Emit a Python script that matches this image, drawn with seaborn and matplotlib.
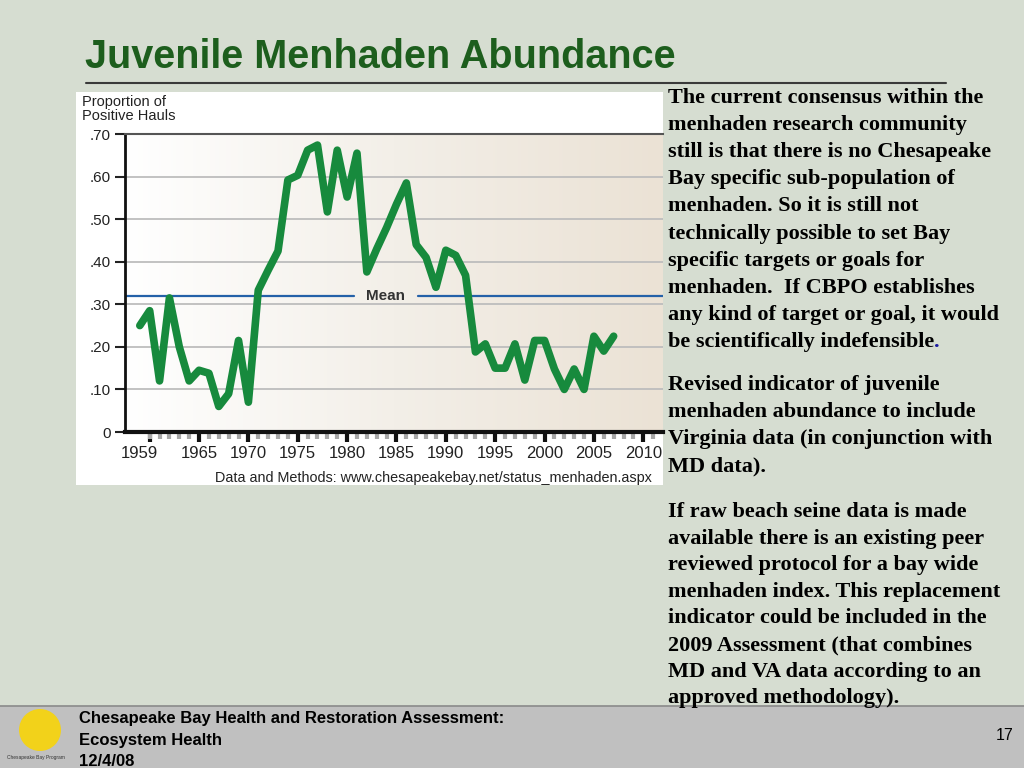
import numpy as np
import pandas as pd
import matplotlib
matplotlib.use('Agg')
import matplotlib.pyplot as plt
from matplotlib.colors import LinearSegmentedColormap
from matplotlib.patches import Rectangle, Ellipse
import seaborn as sns

# data
years = list(range(1959, 2008))
positive_hauls = [0.25, 0.285, 0.12, 0.315, 0.20, 0.12, 0.145, 0.138, 0.06, 0.09,
                  0.215, 0.07, 0.333, 0.38, 0.425, 0.592, 0.603, 0.662, 0.674, 0.517,
                  0.662, 0.552, 0.655, 0.376, 0.43, 0.48, 0.535, 0.585, 0.44, 0.41,
                  0.34, 0.427, 0.415, 0.368, 0.188, 0.207, 0.15, 0.15, 0.207, 0.122,
                  0.215, 0.215, 0.148, 0.10, 0.148, 0.10, 0.225, 0.19, 0.225]
mean_value = 0.32
y_ticks = [0, 0.1, 0.2, 0.3, 0.4, 0.5, 0.6, 0.7]
y_labels = ['0', '.10', '.20', '.30', '.40', '.50', '.60', '.70']
x_label_pos = [1959, 1965, 1970, 1975, 1980, 1985, 1990, 1995, 2000, 2005, 2010]
x_labels = [str(y) for y in x_label_pos]
x_major = list(range(1960, 2011, 5))

title = 'Juvenile Menhaden Abundance'
para1 = ['The current consensus within the',
         'menhaden research community',
         'still is that there is no Chesapeake',
         'Bay specific sub-population of',
         'menhaden. So it is still not',
         'technically possible to set Bay',
         'specific targets or goals for',
         'menhaden.  If CBPO establishes',
         'any kind of target or goal, it would',
         'be scientifically indefensible']
para2 = ['Revised indicator of juvenile',
         'menhaden abundance to include',
         'Virginia data (in conjunction with',
         'MD data).']
para3 = ['If raw beach seine data is made',
         'available there is an existing peer',
         'reviewed protocol for a bay wide',
         'menhaden index. This replacement',
         'indicator could be included in the',
         '2009 Assessment (that combines',
         'MD and VA data according to an',
         'approved methodology).']
footer = ['Chesapeake Bay Health and Restoration Assessment:',
          'Ecosystem Health',
          '12/4/08']
page_no = '17'

df = pd.DataFrame({'year': years, 'value': positive_hauls})

sns.set_style('white')
plt.rcParams['font.family'] = ['Liberation Sans', 'DejaVu Sans']

W, H = 1024, 768
fig = plt.figure(figsize=(W / 100, H / 100), dpi=100)
fig.patch.set_facecolor('#d6ddd1')


def px(x, y):
    # pixel (from top-left) to figure fraction
    return x / W, 1 - y / H


# title + rule
fig.text(*px(85, 57), title, fontsize=28.5, fontweight='bold', color='#1d5e1d',
         va='center', ha='left')
fig.add_artist(plt.Line2D([86 / W, 946 / W], [1 - 83 / H] * 2, color='#3a3a3a', lw=1.5))

# white chart panel
fig.add_artist(Rectangle(px(76, 485), 587 / W, 393 / H, transform=fig.transFigure,
                         facecolor='white', edgecolor='none', zorder=0))

ax = fig.add_axes([125 / W, 1 - 432 / H, 538 / W, 298 / H])
grad_cmap = LinearSegmentedColormap.from_list('bg', ['#ffffff', '#f3efe8', '#ebe2d5'])
ax.imshow(np.linspace(0, 1, 256).reshape(1, -1), cmap=grad_cmap, aspect='auto',
          extent=[0, 1, 0, 1], transform=ax.transAxes, zorder=0)

for yt in y_ticks[1:-1]:
    ax.axhline(yt, color='#bdbdbd', lw=1.3, zorder=1)

# mean line with a gap for its label
ax.axhline(mean_value, xmin=0, xmax=0.426, color='#2461a8', lw=1.6, zorder=2)
ax.axhline(mean_value, xmin=0.545, xmax=1, color='#2461a8', lw=1.6, zorder=2)
ax.text(0.484, mean_value, 'Mean', transform=ax.get_yaxis_transform(), ha='center',
        va='center', fontsize=11, fontweight='bold', color='#333333')

sns.lineplot(data=df, x='year', y='value', ax=ax, color='#178a3d', lw=5.5, zorder=3)

ax.set_xlim(1957.5, 2012)
ax.set_ylim(0, 0.7)
ax.set_xlabel('')
ax.set_ylabel('')
ax.set_yticks(y_ticks)
ax.set_yticklabels(y_labels, fontsize=11, color='#222222')
ax.tick_params(axis='y', length=7, width=1.5, color='#222222', left=True, pad=3)
ax.set_xticks(x_label_pos)
ax.set_xticklabels(x_labels, fontsize=12, color='#222222')
ax.set_xticks(years + [2008, 2009, 2010, 2011], minor=True)
ax.tick_params(axis='x', which='major', length=0, pad=10)
ax.tick_params(axis='x', which='minor', length=5, width=3, color='#a8a8a8', bottom=True)

sec = ax.secondary_xaxis('bottom')
sec.set_xticks(x_major)
sec.set_xticklabels([])
sec.tick_params(length=7, width=3, color='#111111')
sec.spines['bottom'].set_visible(False)

ax.spines['right'].set_visible(False)
ax.spines['top'].set_color('#555555')
ax.spines['top'].set_linewidth(1.5)
ax.spines['left'].set_color('#111111')
ax.spines['left'].set_linewidth(2)
ax.spines['bottom'].set_color('#111111')
ax.spines['bottom'].set_linewidth(3)

fig.text(*px(82, 109), 'Proportion of\nPositive Hauls', fontsize=10.5, color='#222222',
         va='center', ha='left', linespacing=1.05)
fig.text(*px(215, 478), 'Data and Methods: www.chesapeakebay.net/status_menhaden.aspx',
         fontsize=10.4, color='#222222', va='center', ha='left')

# right-hand text column
serif = ['Liberation Serif', 'DejaVu Serif']
fs = 16
pitch = 27.1
last = None
for i, line in enumerate(para1):
    last = fig.text(*px(668, 103 + i * pitch), line, family=serif, fontweight='bold',
                    fontsize=fs, va='baseline', ha='left', color='black')
ax.annotate('.', xy=(1, 0), xycoords=last, va='bottom', ha='left', family=serif,
            fontweight='bold', fontsize=fs, color='#1a1aa0', annotation_clip=False)
for i, line in enumerate(para2):
    fig.text(*px(668, 390 + i * pitch), line, family=serif, fontweight='bold',
             fontsize=fs, va='baseline', ha='left', color='black')
for i, line in enumerate(para3):
    fig.text(*px(668, 517 + i * 26.6), line, family=serif, fontweight='bold',
             fontsize=fs, va='baseline', ha='left', color='black')

# footer band
fig.add_artist(Rectangle((0, 0), 1, 62 / H, transform=fig.transFigure,
                         facecolor='#c0c0c0', edgecolor='none', zorder=0))
fig.add_artist(plt.Line2D([0, 1], [62 / H] * 2, color='#8a8a8a', lw=1.2))
fig.add_artist(Ellipse(px(40, 730), 42 / W, 42 / H, transform=fig.transFigure,
                       facecolor='#f2d21a', edgecolor='none'))
fig.text(*px(36, 757), 'Chesapeake Bay Program', fontsize=3.5, ha='center',
         va='center', color='#333333')
for i, line in enumerate(footer):
    fig.text(*px(79, 719 + i * 21), line, fontweight='bold', fontsize=12,
             va='center', ha='left', color='black')
fig.text(*px(1005, 735), page_no, fontsize=11.5, va='center', ha='center', color='black')

fig.savefig('out.png', dpi=100, facecolor=fig.get_facecolor())
